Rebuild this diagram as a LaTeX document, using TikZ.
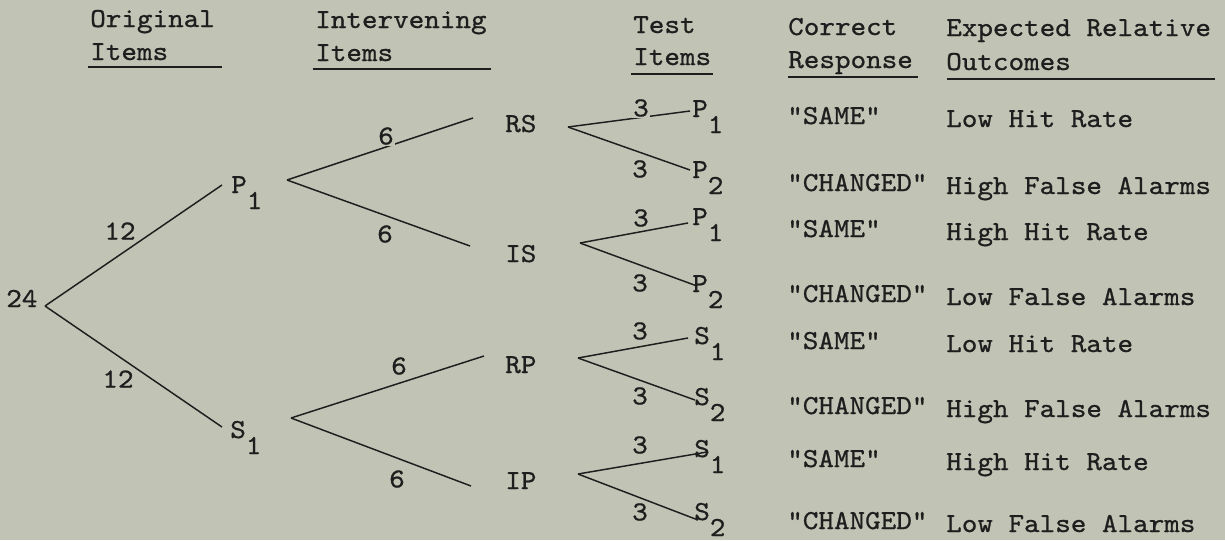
\documentclass[tikz,border=0pt]{standalone}
\usepackage{fontspec}
\newfontfamily\tw{lmmono10-regular.otf}[FakeStretch=1.08,FakeBold=0.8]
\definecolor{bg}{RGB}{193,196,180}
\definecolor{ink}{RGB}{30,30,30}
\newcommand\lo[1]{\raisebox{-12pt}{#1}}
\begin{document}
\begin{tikzpicture}[x=0.75pt,y=-0.75pt,
  txt/.style={anchor=base west, inner sep=0pt, font={\fontsize{20.6}{24}\tw}, text=ink},
  lbl/.style={inner sep=0.8pt, fill=bg, font={\fontsize{20.6}{24}\tw}, text=ink},
  edge/.style={draw=ink, line width=1.1pt},
  rule/.style={draw=ink, line width=1.2pt}]
\path[fill=bg, use as bounding box] (0,0) rectangle (1225,540);

% headers
\node[txt] (h1a) at (90,27) {Original};
\node[txt] (h1b) at (90,60) {Items};
\node[txt] (h2a) at (315,28) {Intervening};
\node[txt] (h2b) at (315,61) {Items};
\node[txt] (h3a) at (633,33) {Test};
\node[txt] (h3b) at (633,65) {Items};
\node[txt] (h4a) at (788,35) {Correct};
\node[txt] (h4b) at (788,68) {Response};
\node[txt] (h5a) at (946,36) {Expected Relative};
\node[txt] (h5b) at (946,70) {Outcomes};
\draw[rule] (88,67) -- (222,67);
\draw[rule] (313,69) -- (491,69);
\draw[rule] (631,74) -- (713,74);
\draw[rule] (788,77) -- (918,77);
\draw[rule] (947,79) -- (1215,79);

% left tree
\node[txt] (n24) at (6,307) {24};
\coordinate (v0) at ([shift={(39,-1)}]n24.base west);
\node[txt] (P1a) at (231,193) {P\lo{1}};
\node[txt] (S1a) at (230,438) {S\lo{1}};
\coordinate (vP) at ([shift={(56,-13)}]P1a.base west);
\coordinate (vS) at ([shift={(61,-20)}]S1a.base west);
\draw[edge] (v0) -- ([shift={(-9,-8)}]P1a.base west);
\draw[edge] (v0) -- ([shift={(-8,-11)}]S1a.base west);

% intervening
\node[txt] (RS) at (505,132) {RS};
\node[txt] (IS) at (505,262) {IS};
\node[txt] (RP) at (505,373) {RP};
\node[txt] (IP) at (505,489) {IP};
\draw[edge] (vP) -- ([shift={(-32,-14)}]RS.base west);
\draw[edge] (vP) -- ([shift={(-35,-16)}]IS.base west);
\draw[edge] (vS) -- ([shift={(-21,-17)}]RP.base west);
\draw[edge] (vS) -- ([shift={(-34,-3)}]IP.base west);

% test items
\node[txt] (T1) at (692,117) {P\lo{1}};
\node[txt] (T2) at (692,178) {P\lo{2}};
\node[txt] (T3) at (692,225) {P\lo{1}};
\node[txt] (T4) at (692,292) {P\lo{2}};
\node[txt] (T5) at (694,344) {S\lo{1}};
\node[txt] (T6) at (694,405) {S\lo{2}};
\node[txt] (T7) at (694,457) {S\lo{1}};
\node[txt] (T8) at (694,520) {S\lo{2}};
\coordinate (vRS) at ([shift={(63,-5)}]RS.base west);
\coordinate (vIS) at ([shift={(75,-19)}]IS.base west);
\coordinate (vRP) at ([shift={(73,-15)}]RP.base west);
\coordinate (vIP) at ([shift={(73,-15)}]IP.base west);
\draw[edge] (vRS) -- ([shift={(-2,-6)}]T1.base west);
\draw[edge] (vRS) -- ([shift={(-2,-8)}]T2.base west);
\draw[edge] (vIS) -- ([shift={(-4,-2)}]T3.base west);
\draw[edge] (vIS) -- ([shift={(5,-6)}]T4.base west);
\draw[edge] (vRP) -- ([shift={(-6,-6)}]T5.base west);
\draw[edge] (vRP) -- ([shift={(1,-5)}]T6.base west);
\draw[edge] (vIP) -- ([shift={(13,-5)}]T7.base west);
\draw[edge] (vIP) -- ([shift={(4,0)}]T8.base west);

% branch labels
\node[lbl] (l12a) at (120,231) {12};
\node[lbl] (l12b) at (118,379) {12};
\node[lbl] (l6a) at (386,136) {6};
\node[lbl] (l6b) at (385,234) {6};
\node[lbl] (l6c) at (399,366) {6};
\node[lbl] (l6d) at (397,479) {6};
\node[lbl] (l3a) at (641,108) {3};
\node[lbl] (l3b) at (640,169) {3};
\node[lbl] (l3c) at (641,218) {3};
\node[lbl] (l3d) at (640,283) {3};
\node[lbl] (l3e) at (640,331) {3};
\node[lbl] (l3f) at (640,396) {3};
\node[lbl] (l3g) at (640,445) {3};
\node[lbl] (l3h) at (640,512) {3};

% responses and outcomes
\node[txt] (r1) at (787,124) {"SAME"};
\node[txt] (r2) at (787,191) {"CHANGED"};
\node[txt] (r3) at (787,237) {"SAME"};
\node[txt] (r4) at (787,302) {"CHANGED"};
\node[txt] (r5) at (787,349) {"SAME"};
\node[txt] (r6) at (787,414) {"CHANGED"};
\node[txt] (r7) at (787,467) {"SAME"};
\node[txt] (r8) at (787,529) {"CHANGED"};
\node[txt] (o1) at (946,127) {Low Hit Rate};
\node[txt] (o2) at (946,194) {High False Alarms};
\node[txt] (o3) at (946,240) {High Hit Rate};
\node[txt] (o4) at (946,305) {Low False Alarms};
\node[txt] (o5) at (946,352) {Low Hit Rate};
\node[txt] (o6) at (946,417) {High False Alarms};
\node[txt] (o7) at (946,470) {High Hit Rate};
\node[txt] (o8) at (946,532) {Low False Alarms};
\end{tikzpicture}
\end{document}
